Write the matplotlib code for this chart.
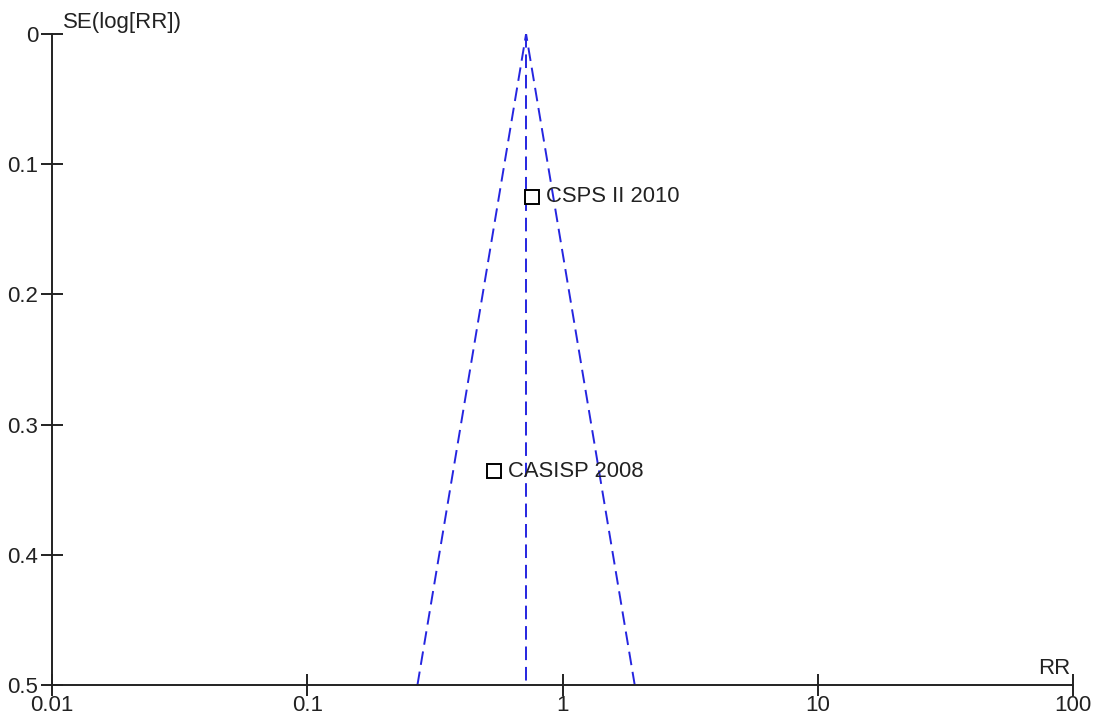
import numpy as np
import matplotlib
matplotlib.use('Agg')
import matplotlib.pyplot as plt

# study estimates (risk ratio and standard error of log RR)
studies = ['CSPS II 2010', 'CASISP 2008']
rr = [0.76, 0.54]
se = [0.125, 0.336]
pooled_rr = 0.72

x_ticks = [0.01, 0.1, 1, 10, 100]
x_labels = ['0.01', '0.1', '1', '10', '100']
y_ticks = [0, 0.1, 0.2, 0.3, 0.4, 0.5]
y_labels = ['0', '0.1', '0.2', '0.3', '0.4', '0.5']

plt.rcParams['font.family'] = ['Liberation Sans', 'DejaVu Sans']

fig = plt.figure(figsize=(10.96, 7.15), dpi=100)
ax = fig.add_axes([52 / 1096, 1 - 685 / 715, (1073 - 52) / 1096, (685 - 34) / 715])

# funnel: pooled line and 95% limits
se_max = 0.5
blue = '#2525e0'
dash = (0, (7, 3.5))
lo = np.exp(np.log(pooled_rr) - 1.96 * se_max)
hi = np.exp(np.log(pooled_rr) + 1.96 * se_max)
ax.plot([pooled_rr, pooled_rr], [0, se_max], ls=dash, color=blue, lw=1.4)
ax.plot([lo, pooled_rr, hi], [se_max, 0, se_max], ls=dash, color=blue, lw=1.4)

ax.plot(rr, se, ls='none', marker='s', markersize=9.5, markerfacecolor='white',
        markeredgecolor='black', markeredgewidth=1.4, zorder=5)
for name, x, y in zip(studies, rr, se):
    ax.annotate(name, (x, y), xytext=(10, 0), textcoords='offset points',
                va='center', ha='left', fontsize=15.8, color='#222222')

ax.set_xscale('log')
ax.set_xlim(0.01, 100)
ax.set_ylim(0.5, 0)
ax.set_xticks(x_ticks)
ax.set_xticklabels(x_labels)
ax.minorticks_off()
ax.set_yticks(y_ticks)
ax.set_yticklabels(y_labels)

for side in ['top', 'right']:
    ax.spines[side].set_visible(False)
for side in ['left', 'bottom']:
    ax.spines[side].set_linewidth(1.4)
    ax.spines[side].set_color('#222222')

ax.tick_params(direction='inout', length=16, width=1.4, color='#222222',
               labelsize=16, labelcolor='#222222')
ax.tick_params(axis='x', pad=-1)
ax.tick_params(axis='y', pad=2)

ax.annotate('SE(log[RR])', (0, 1), xycoords='axes fraction', xytext=(8, 1),
            textcoords='offset points', ha='left', va='bottom', fontsize=16, color='#222222')
ax.annotate('RR', (1, 0), xycoords='axes fraction', xytext=(-2, 4),
            textcoords='offset points', ha='right', va='bottom', fontsize=16, color='#222222')

fig.savefig('out.png', dpi=100)
